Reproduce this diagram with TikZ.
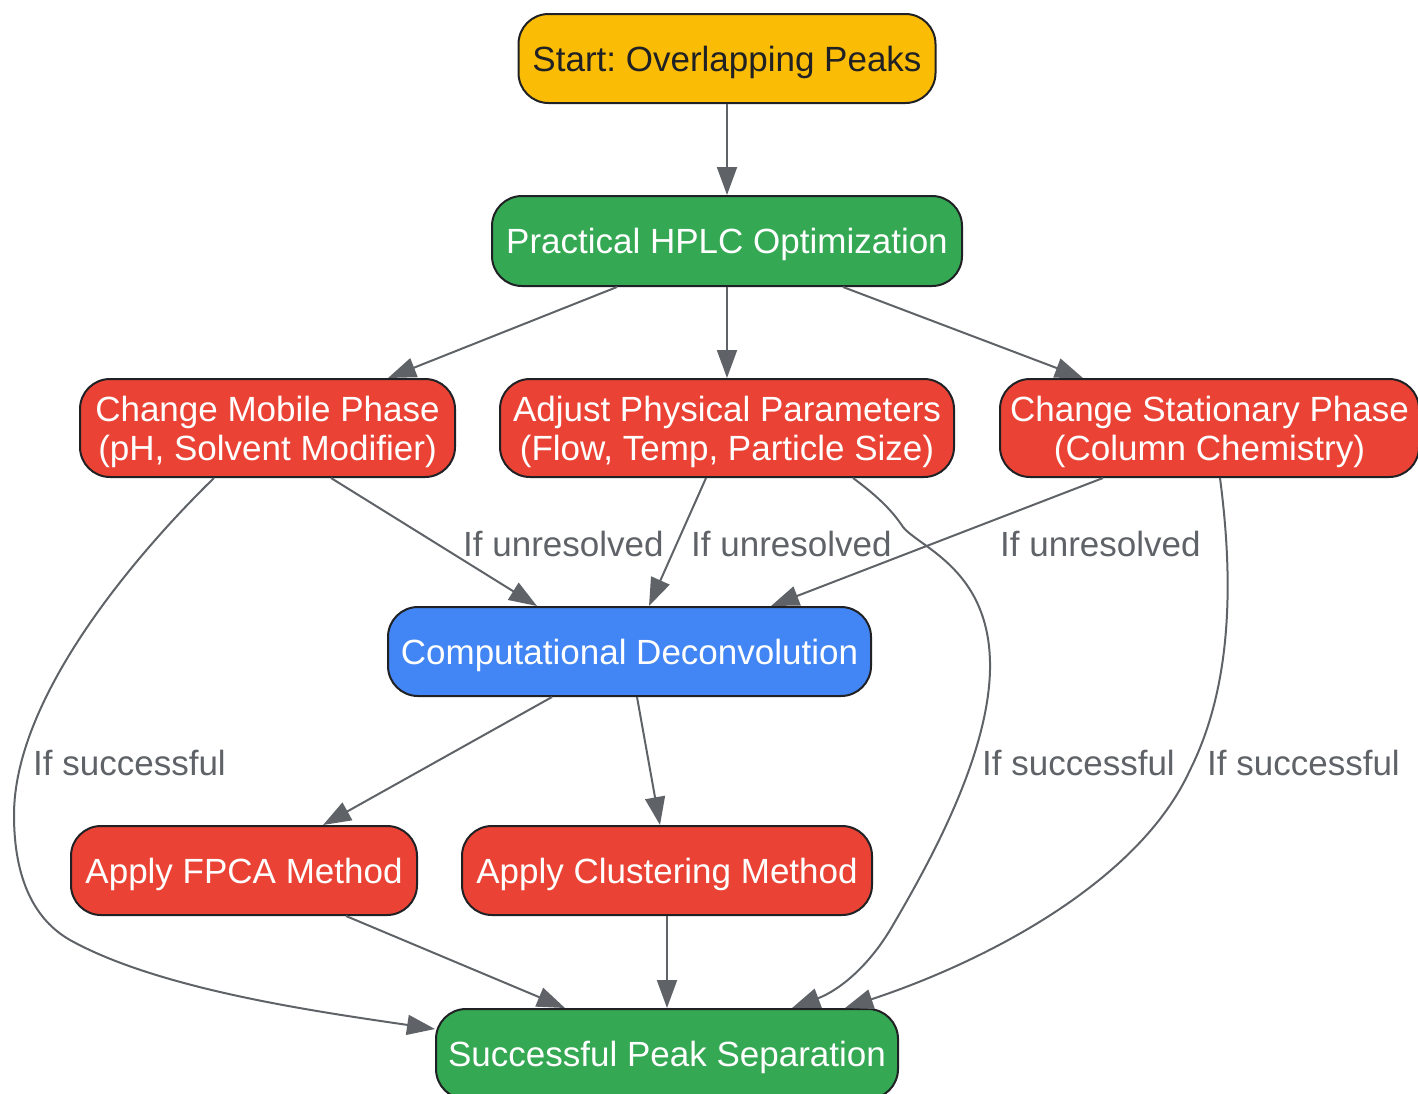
\documentclass[tikz,border=0pt]{standalone}
\usepackage{fontspec}
\setmainfont{Liberation Sans}
\usetikzlibrary{arrows.meta}
\definecolor{gyellow}{HTML}{FBBC05}
\definecolor{ggreen}{HTML}{34A853}
\definecolor{gred}{HTML}{EA4335}
\definecolor{gblue}{HTML}{4285F4}
\definecolor{gdark}{HTML}{202124}
\definecolor{ggrey}{HTML}{5F6368}
\frenchspacing
\begin{document}
\frenchspacing
\begin{tikzpicture}[x=1pt,y=1pt,
  box/.style={draw=gdark, line width=2pt, rounded corners=30pt, inner sep=0pt,
    text depth=-4pt, align=center, font=\frenchspacing\fontsize{35}{39}\selectfont, text=white},
  lbl/.style={inner sep=0pt, text=ggrey, font=\fontsize{35}{39}\selectfont, anchor=base west},
  conn/.style={draw=ggrey, line width=2pt, -{Triangle[length=28pt,width=20pt]}}
]
\useasboundingbox (0,0) rectangle (1418,-1093);
% nodes
\node[box, fill=gyellow, text=gdark, minimum width=417, minimum height=89] (start) at (727,-58.5) {Start: Overlapping Peaks};
\node[box, fill=ggreen, minimum width=470, minimum height=90] (prac) at (727,-241) {Practical HPLC Optimization};
\node[box, fill=gred, minimum width=375, minimum height=98] (mob) at (267.5,-428) {Change Mobile Phase\\(pH, Solvent Modifier)};
\node[box, fill=gred, minimum width=454, minimum height=98] (adj) at (727,-428) {Adjust Physical Parameters\\(Flow, Temp, Particle Size)};
\node[box, fill=gred, minimum width=419, minimum height=98] (stat) at (1209.5,-428) {Change Stationary Phase\\(Column Chemistry)};
\node[box, fill=gblue, minimum width=483, minimum height=89] (comp) at (629.5,-651.5) {Computational Deconvolution};
\node[box, fill=gred, minimum width=346, minimum height=89] (fpca) at (244,-870.5) {Apply FPCA Method};
\node[box, fill=gred, minimum width=410, minimum height=89] (clus) at (667,-870.5) {Apply Clustering Method};
\node[box, fill=ggreen, minimum width=462, minimum height=90] (succ) at (667,-1054) {Successful Peak Separation};
% connectors
\draw[conn] (start.south) -- (prac.north);
\draw[conn] ([xshift=-110]prac.south) -- ([xshift=120.5]mob.north);
\draw[conn] (prac.south) -- (adj.north);
\draw[conn] ([xshift=116]prac.south) -- ([xshift=-126.5]stat.north);
\draw[conn] ([xshift=63.5]mob.south) -- ([xshift=-92.5]comp.north);
\draw[conn] ([xshift=-21]adj.south) -- ([xshift=19.5]comp.north);
\draw[conn] ([xshift=-106.5]stat.south) -- ([xshift=141.5]comp.north);
\draw[conn] ([xshift=-53.5]mob.south) .. controls (130,-560) and (14,-700) .. (14,-815)
   .. controls (14,-880) and (35,-920) .. (70,-940)
   .. controls (160,-990) and (320,-1012) .. ([yshift=-21]succ.north west);
\draw[conn] ([xshift=126]adj.south) .. controls (880,-498) and (893,-512) .. (903,-527)
   .. controls (920,-548) and (992,-570) .. (990,-670)
   .. controls (988,-760) and (925,-870) .. (893,-925)
   .. controls (870,-965) and (840,-990) .. ([xshift=125]succ.north);
\draw[conn] ([xshift=10.5]stat.south) .. controls (1232,-570) and (1235,-680) .. (1190,-770)
   .. controls (1140,-880) and (990,-960) .. ([xshift=178]succ.north);
\draw[conn] ([xshift=-77.5]comp.south) -- ([xshift=79]fpca.north);
\draw[conn] ([xshift=7.5]comp.south) -- ([xshift=-7]clus.north);
\draw[conn] ([xshift=102]fpca.south) -- ([xshift=-102]succ.north);
\draw[conn] (clus.south) -- (succ.north);
% labels
\node[lbl] (l1) at (463,-556) {If unresolved};
\node[lbl] (l2) at (691,-556) {If unresolved};
\node[lbl] (l3) at (1000,-556) {If unresolved};
\node[lbl] (l4) at (33,-775) {If successful};
\node[lbl] (l5) at (982,-775) {If successful};
\node[lbl] (l6) at (1207,-775) {If successful};
\end{tikzpicture}
\end{document}
